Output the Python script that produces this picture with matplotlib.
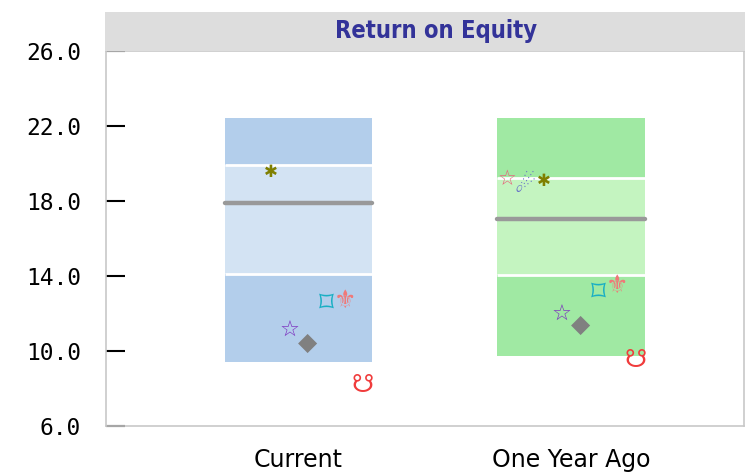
import numpy as np
import matplotlib
matplotlib.use("Agg")
import matplotlib.pyplot as plt
from matplotlib.patches import Rectangle

# Return on Equity distribution bands for two periods
categories = ["Current", "One Year Ago"]
band_low = [9.4, 9.7]
band_q1 = [14.1, 14.05]
band_median = [17.9, 17.05]
band_q3 = [19.9, 19.2]
band_high = [22.4, 22.4]

# Individual companies plotted over the bands (NaN = no value)
series_glyphs = ["\u2606", "\u2604", "\u2731", "\u2606", "\u25C6", "\u2311", "\u269C", "\u260B"]
series_colors = ["#E8607A", "#6670C8", "#7F7F00", "#7B2FBE", "#808080", "#1AAFC4", "#F07878", "#F03C3C"]
series_fontsizes = [15, 17, 12, 16, 18, 21, 18, 18]
series_current = [np.nan, np.nan, 19.65, 11.15, 10.55, 12.7, 12.8, 8.3]
series_year_ago = [19.25, 19.0, 19.15, 12.0, 11.5, 13.25, 13.6, 9.65]

y_ticks = [6.0, 10.0, 14.0, 18.0, 22.0, 26.0]

outer_colors = ["#B3CEEB", "#A0E9A3"]
inner_colors = ["#D3E3F3", "#C4F4C0"]

W, H = 745, 474
fig = plt.figure(figsize=(W / 100, H / 100), dpi=100)
ax = fig.add_axes([106 / W, (H - 425.7) / H, (744 - 106) / W, (425.7 - 51) / H])

# Title band
fig.patches.append(Rectangle((105 / W, (H - 51) / H), 1 - 105 / W, 39.3 / H,
                             transform=fig.transFigure, facecolor="#DDDDDD",
                             edgecolor="none", zorder=0))
fig.text((324 + 549) / 2 / W, (H - 31) / H, "Return on Equity", ha="center", va="center",
         fontsize=17, fontweight="bold", fontstretch="condensed", color="#333399",
         family="DejaVu Sans")

box_w = 0.54
for i in range(len(categories)):
    ax.bar(i, band_high[i] - band_low[i], bottom=band_low[i], width=box_w,
           color=outer_colors[i], edgecolor="none", zorder=1)
    ax.bar(i, band_q3[i] - band_q1[i], bottom=band_q1[i], width=box_w,
           color=inner_colors[i], edgecolor="none", zorder=2)
    ax.hlines([band_q1[i], band_q3[i]], i - box_w / 2, i + box_w / 2,
              colors="white", linewidth=2, zorder=3)
    ax.hlines(band_median[i], i - box_w / 2, i + box_w / 2,
              colors="#999999", linewidth=3.2, zorder=4, capstyle="round")

n = len(series_glyphs)
step = box_w / 8
for cat_idx, values in enumerate([series_current, series_year_ago]):
    for s in range(n):
        v = values[s]
        if np.isnan(v):
            continue
        x = cat_idx + (s - (n - 1) / 2) * step
        ax.text(x, v, series_glyphs[s], ha="center", va="center_baseline",
                color=series_colors[s], fontsize=series_fontsizes[s],
                family="DejaVu Sans", zorder=6)

ax.set_xlim(-0.7064, 1.635)
ax.set_ylim(6, 26)
ax.set_xticks(range(len(categories)))
ax.set_xticklabels(categories, fontsize=17, family="DejaVu Sans")
ax.tick_params(axis="x", length=0, pad=16)
ax.set_yticks(y_ticks)
ax.set_yticklabels([f"{t:.1f}" for t in y_ticks], fontsize=16.5, family="DejaVu Sans Mono")
ax.tick_params(axis="y", direction="in", length=13.7, width=1.5, color="black", pad=18)
ytick_objs = ax.yaxis.get_major_ticks()
for t in (ytick_objs[0], ytick_objs[-1]):
    t.tick1line.set_color("#555555")

for side in ["left", "right", "top", "bottom"]:
    ax.spines[side].set_color("#C8C8C8")
    ax.spines[side].set_linewidth(1.2)
ax.set_facecolor("white")

fig.savefig("out.png", dpi=100)
